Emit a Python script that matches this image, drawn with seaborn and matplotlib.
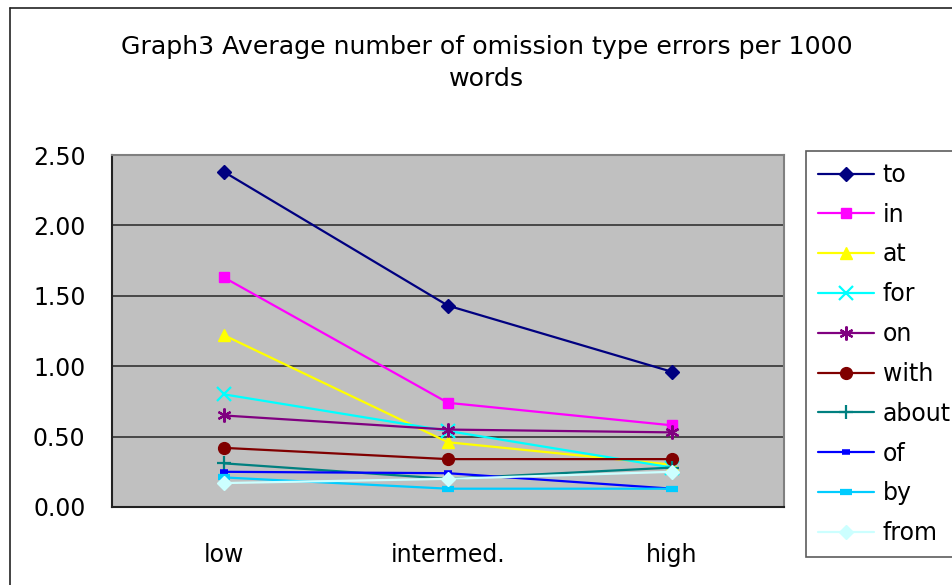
import pandas as pd
import seaborn as sns
import matplotlib.pyplot as plt
from matplotlib.lines import Line2D

# Data
levels = ["low", "intermed.", "high"]
words = ["to", "in", "at", "for", "on", "with", "about", "of", "by", "from"]
to_vals = [2.38, 1.43, 0.96]
in_vals = [1.63, 0.74, 0.58]
at_vals = [1.22, 0.46, 0.30]
for_vals = [0.80, 0.54, 0.28]
on_vals = [0.65, 0.55, 0.53]
with_vals = [0.42, 0.34, 0.34]
about_vals = [0.31, 0.20, 0.28]
of_vals = [0.25, 0.24, 0.13]
by_vals = [0.21, 0.13, 0.13]
from_vals = [0.17, 0.20, 0.25]

series = [to_vals, in_vals, at_vals, for_vals, on_vals,
          with_vals, about_vals, of_vals, by_vals, from_vals]

colors = ["#000080", "#FF00FF", "#FFFF00", "#00FFFF", "#800080",
          "#800000", "#008080", "#0000FF", "#00CCFF", "#CCFFFF"]
markers = ["D", "s", "^", "x", (6, 2, 0), "o", "+", "_", "_", "D"]
msizes = [7, 7.5, 8.5, 9.5, 10, 8.5, 10, 6, 9, 7.5]
mews = [1, 1, 1, 1.6, 1.6, 1, 1.6, 4, 4.5, 1]

rows = []
for w, vals in zip(words, series):
    for lvl, v in zip(levels, vals):
        rows.append({"word": w, "level": lvl, "value": v})
df = pd.DataFrame(rows)

sns.set_style("white")
plt.rcParams['font.family'] = ['DejaVu Sans']
plt.rcParams['text.color'] = 'black'
plt.rcParams['xtick.color'] = 'black'
plt.rcParams['ytick.color'] = 'black'

fig = plt.figure(figsize=(9.52, 5.85), dpi=100)
ax = fig.add_axes([112 / 952, 1 - 507 / 585, 672 / 952, 352 / 585])
ax.set_facecolor("#C0C0C0")

for w, c, m, ms, mew in zip(words, colors, markers, msizes, mews):
    sub = df[df["word"] == w]
    sns.lineplot(data=sub, x="level", y="value", color=c, marker=m,
                 markersize=ms, markeredgecolor=c, markeredgewidth=mew,
                 linewidth=1.6, label=w, ax=ax, sort=False, zorder=3)

ax.set_xlim(-0.5, 2.5)
ax.set_ylim(0, 2.5)
ax.set_yticks([0, 0.5, 1.0, 1.5, 2.0, 2.5])
ax.set_yticklabels([f"{v:.2f}" for v in [0, 0.5, 1.0, 1.5, 2.0, 2.5]])
ax.yaxis.grid(True, color="#333333", linewidth=1.2, zorder=1)
ax.set_axisbelow(True)
ax.set_xlabel("")
ax.set_ylabel("")
ax.set_xticks([0, 1, 2])
ax.set_xticklabels(levels)
ax.set_xticks([0.5, 1.5], minor=True)
ax.tick_params(axis="x", which="major", length=0, pad=26, labelsize=17, labelcolor="black")
ax.tick_params(axis="x", which="minor", direction="in", length=6, width=1, color="#333333")
ax.tick_params(axis="y", direction="in", length=4, width=1, color="#333333", pad=19,
               labelsize=17, labelcolor="black")

for s in ["left", "bottom"]:
    ax.spines[s].set_color("#222222")
    ax.spines[s].set_linewidth(1.5)
for s in ["top", "right"]:
    ax.spines[s].set_color("#808080")
    ax.spines[s].set_linewidth(1.5)

leg = ax.legend(loc="upper left", bbox_to_anchor=(806 / 952, 1 - 151 / 585),
                bbox_transform=fig.transFigure, fontsize=17, frameon=True,
                fancybox=False, edgecolor="#333333", borderpad=0.5,
                labelspacing=0.67, handlelength=2.4, handletextpad=0.35,
                borderaxespad=0)
leg.get_frame().set_linewidth(1.2)
for t in leg.get_texts():
    t.set_color("black")

fig.text(487 / 952, 1 - 63 / 585,
         "Graph3 Average number of omission type errors per 1000\nwords",
         ha="center", va="center", fontsize=18.2, linespacing=1.45, color="black")

# outer chart border (only left and top visible)
fig.add_artist(Line2D([10 / 952, 10 / 952], [0, 1 - 8 / 585], transform=fig.transFigure,
                      color="#222222", linewidth=1.2))
fig.add_artist(Line2D([10 / 952, 1], [1 - 8 / 585, 1 - 8 / 585], transform=fig.transFigure,
                      color="#222222", linewidth=1.2))

fig.savefig("out.png", dpi=100)
